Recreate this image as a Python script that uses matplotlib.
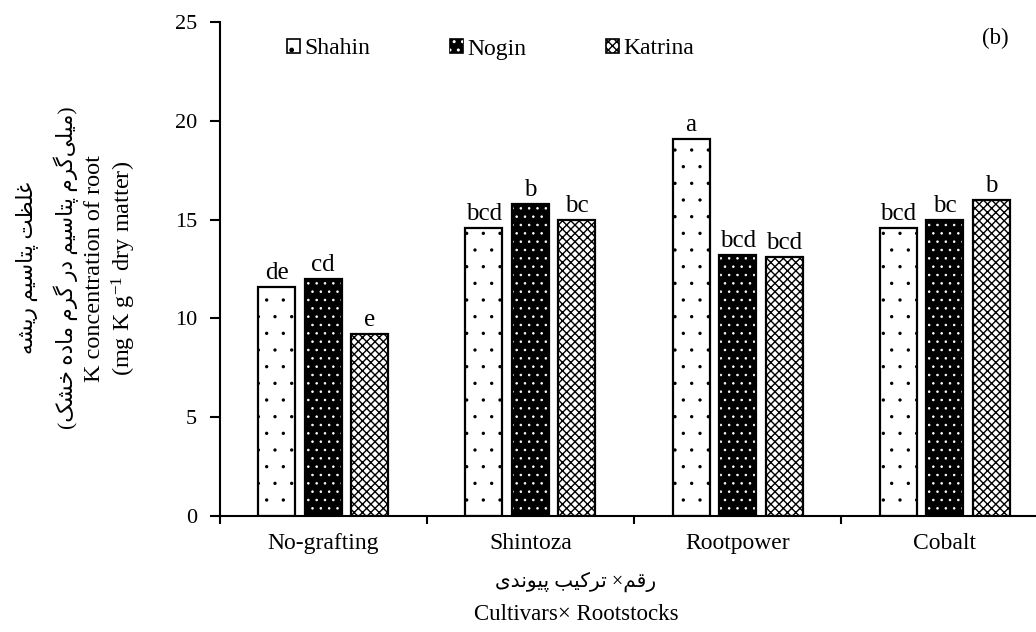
import numpy as np
import matplotlib
matplotlib.use('Agg')
import matplotlib.pyplot as plt
from matplotlib.legend_handler import HandlerTuple

plt.rcParams['font.family'] = ['Liberation Serif', 'DejaVu Sans']
plt.rcParams['mathtext.fontset'] = 'custom'
plt.rcParams['mathtext.rm'] = 'Liberation Serif'
plt.rcParams['mathtext.it'] = 'Liberation Serif:italic'

# données
rootstocks = ['No-grafting', 'Shintoza', 'Rootpower', 'Cobalt']
cultivars = ['Shahin', 'Nogin', 'Katrina']
shahin = [11.6, 14.6, 19.1, 14.6]
nogin = [12.0, 15.8, 13.2, 15.0]
katrina = [9.2, 15.0, 13.1, 16.0]
lettres_shahin = ['de', 'bcd', 'a', 'bcd']
lettres_nogin = ['cd', 'b', 'bcd', 'bc']
lettres_katrina = ['e', 'bc', 'bcd', 'b']

# textes persans
ylab_fa1 = 'غلظت پتاسیم ریشه'
ylab_fa2 = '(میلی\u200cگرم پتاسیم در گرم ماده خشک)'
xlab_fa = 'رقم× ترکیب پیوندی'

# formes contextuelles (isolée, finale, initiale, médiane)
formes = {
    'ا': ('\uFE8D', '\uFE8E'),
    'ب': ('\uFE8F', '\uFE90', '\uFE91', '\uFE92'),
    'پ': ('\uFB56', '\uFB57', '\uFB58', '\uFB59'),
    'ت': ('\uFE95', '\uFE96', '\uFE97', '\uFE98'),
    'خ': ('\uFEA5', '\uFEA6', '\uFEA7', '\uFEA8'),
    'د': ('\uFEA9', '\uFEAA'),
    'ر': ('\uFEAD', '\uFEAE'),
    'س': ('\uFEB1', '\uFEB2', '\uFEB3', '\uFEB4'),
    'ش': ('\uFEB5', '\uFEB6', '\uFEB7', '\uFEB8'),
    'ظ': ('\uFEC5', '\uFEC6', '\uFEC7', '\uFEC8'),
    'غ': ('\uFECD', '\uFECE', '\uFECF', '\uFED0'),
    'ق': ('\uFED5', '\uFED6', '\uFED7', '\uFED8'),
    'ک': ('\uFB8E', '\uFB8F', '\uFB90', '\uFB91'),
    'گ': ('\uFB92', '\uFB93', '\uFB94', '\uFB95'),
    'ل': ('\uFEDD', '\uFEDE', '\uFEDF', '\uFEE0'),
    'م': ('\uFEE1', '\uFEE2', '\uFEE3', '\uFEE4'),
    'ن': ('\uFEE5', '\uFEE6', '\uFEE7', '\uFEE8'),
    'ه': ('\uFEE9', '\uFEEA', '\uFEEB', '\uFEEC'),
    'و': ('\uFEED', '\uFEEE'),
    'ی': ('\uFBFC', '\uFBFD', '\uFBFE', '\uFBFF'),
}
formes['\u0643'] = formes['ک']
formes['\u064A'] = formes['ی']


def farsi(texte):
    # mise en forme des lettres puis ordre visuel de droite à gauche
    sortie = []
    for i, c in enumerate(texte):
        if c == '\u200c':
            continue
        if c not in formes:
            sortie.append(c)
            continue
        prec = texte[i - 1] if i > 0 else ''
        suiv = texte[i + 1] if i < len(texte) - 1 else ''
        lie_av = prec in formes and len(formes[prec]) == 4
        lie_ap = len(formes[c]) == 4 and suiv in formes
        f = formes[c]
        if lie_av and lie_ap:
            sortie.append(f[3])
        elif lie_av:
            sortie.append(f[1])
        elif lie_ap:
            sortie.append(f[2])
        else:
            sortie.append(f[0])
    s = ''.join(reversed(sortie))
    return s.replace('(', '\0').replace(')', '(').replace('\0', ')')


W, H = 1036, 632
fig = plt.figure(figsize=(W / 100, H / 100), dpi=100)
ax = fig.add_axes([219.5 / W, 1 - 516 / H, 829 / W, (516 - 22) / H])

x = np.arange(len(rootstocks))
larg = 0.179
dec = 0.2246

plt.rcParams['hatch.linewidth'] = 0.0
b1 = ax.bar(x - dec, shahin, larg, color='white', edgecolor='black', hatch='.', linewidth=0)
plt.rcParams['hatch.linewidth'] = 0.6
b2 = ax.bar(x, nogin, larg, color='black', edgecolor='black', linewidth=0)
b2h = ax.bar(x, nogin, larg, color='none', edgecolor='white', hatch='..', linewidth=0)
plt.rcParams['hatch.linewidth'] = 1.0
b3 = ax.bar(x + dec, katrina, larg, color='white', edgecolor='black', hatch='xxxx', linewidth=0)
# contours
for serie, d in zip([shahin, nogin, katrina], [-dec, 0, dec]):
    ax.bar(x + d, serie, larg, color='none', edgecolor='black', linewidth=1.6)

for serie, lettres, d in zip([shahin, nogin, katrina],
                             [lettres_shahin, lettres_nogin, lettres_katrina], [-dec, 0, dec]):
    for k in range(len(x)):
        ax.annotate(lettres[k], (x[k] + d, serie[k]), xytext=(0, 2), textcoords='offset points',
                    ha='center', va='bottom', fontsize=18)

ax.set_xlim(-0.5, 3.5)
ax.set_ylim(0, 25)
ax.set_yticks(np.arange(0, 26, 5))
ax.set_xticks(x)
ax.set_xticklabels(rootstocks, fontsize=17)
ax.set_xticks(np.arange(-0.5, 4, 1), minor=True)
ax.tick_params(axis='x', which='major', length=0, pad=12)
ax.tick_params(axis='x', which='minor', length=6, width=1.5, direction='out')
ax.tick_params(axis='y', length=7, width=1.5, direction='out', pad=9, labelsize=16)
ax.spines['top'].set_visible(False)
ax.spines['right'].set_visible(False)
ax.spines['left'].set_linewidth(1.5)
ax.spines['bottom'].set_linewidth(1.5)

handles = [b1[0], (b2[0], b2h[0]), b3[0]]
leg = ax.legend(handles, cultivars, loc='center left', bbox_to_anchor=(287 / W, 1 - 49 / H),
                bbox_transform=fig.transFigure, ncol=3, frameon=False, borderpad=0, borderaxespad=0,
                handlelength=0.55, handleheight=0.55, handletextpad=0.17, columnspacing=3.4,
                fontsize=17, handler_map={tuple: HandlerTuple(ndivide=1)})
for p in leg.get_patches():
    p.set_linewidth(1.2)

fig.text(995 / W, 1 - 38 / H, '(b)', ha='center', va='center', fontsize=16.5)

# titres des axes
yc = 1 - 268 / H
fig.text(27 / W, yc, farsi(ylab_fa1), rotation=90, ha='center', va='center', fontsize=15.5)
fig.text(66 / W, yc, farsi(ylab_fa2), rotation=90, ha='center', va='center', fontsize=15.5)
fig.text(95 / W, yc, 'K concentration of root', rotation=90, ha='center', va='center', fontsize=17.5)
fig.text(124 / W, yc, '(mg K g$^{-1}$ dry matter)', rotation=90, ha='center', va='center', fontsize=17.5)

fig.text(576 / W, 1 - 582 / H, farsi(xlab_fa), ha='center', va='center', fontsize=14.5)
fig.text(576 / W, 1 - 614 / H, 'Cultivars× Rootstocks', ha='center', va='center', fontsize=16.5)

fig.savefig('out.png', dpi=100)
